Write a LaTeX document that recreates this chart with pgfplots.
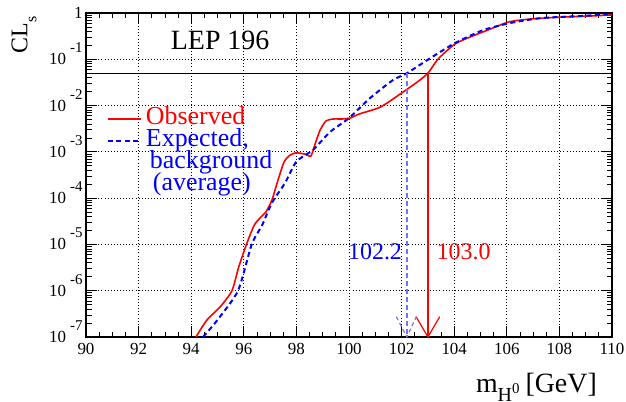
\documentclass[border=0pt]{standalone}
\usepackage{fontspec}
\setmainfont{Liberation Serif}
\usepackage{graphicx}
\usepackage{pgfplots}
\pgfplotsset{compat=1.18}
\newcommand{\ex}[1]{10\hspace{4bp}\smash{\raisebox{12bp}{\fontsize{15}{15}\selectfont #1}}}
\begin{document}
\begin{tikzpicture}
\begin{axis}[
  at={(0,0)}, anchor=south west,
  scale only axis, width=526bp, height=324bp,
  xmin=90, xmax=110, ymode=log, ymin=1e-7, ymax=1,
  xtick={90,92,...,110}, minor x tick num=3,
  ytick={1e-7,1e-6,1e-5,1e-4,1e-3,1e-2,1e-1,1},
  yticklabels={\ex{-7},\ex{-6},\ex{-5},\ex{-4},\ex{-3},\ex{-2},\ex{-1},1\hspace{13bp}},
  grid=major,
  major grid style={black, line width=0.9bp, dash pattern=on 0.9bp off 2.2bp},
  tick align=inside,
  major tick length=11bp, minor tick length=5.5bp,
  every tick/.style={black, line width=0.8bp},
  axis line style={black, line width=1.3bp},
  xticklabel style={font=\fontsize{17}{17}\selectfont, yshift=-3bp},
  yticklabel style={font=\fontsize{17}{17}\selectfont},
  /pgf/number format/assume math mode=true,
  xlabel={m\raisebox{-9bp}{\fontsize{20}{20}\selectfont H\raisebox{8bp}{\fontsize{15}{15}\selectfont 0}}\hspace{6bp}[GeV]},
  xlabel style={at={(axis description cs:0.9715,-0.11)}, anchor=north east, inner sep=0pt, font=\fontsize{28}{28}\selectfont},
  legend style={at={(axis description cs:0.0399,0.7068)}, anchor=north west, draw=none, fill=none,
    inner sep=0pt, outer sep=0pt, cells={anchor=west},
    nodes={inner sep=0pt, text height=17bp, text depth=5bp},
    font=\fontsize{26}{26}\selectfont, row sep=0pt,
    /tikz/every odd column/.append style={column sep=4bp}},
  legend image code/.code={\draw[#1] (0bp,0bp) -- (33bp,0bp);},
]
\addplot[red, line width=1.6bp, smooth, tension=0.4] coordinates {
(94.18,1e-7) (94.6,2.34e-7) (95.1,4.47e-7) (95.55,1e-6) (95.8,3.16e-6) (96.1,1e-5)
(96.4,2.63e-5) (96.7,4.17e-5) (96.84,5.01e-5) (97.07,9.12e-5) (97.3,2.45e-4)
(97.53,6.03e-4) (97.76,8.51e-4) (98.0,9.55e-4) (98.33,8.91e-4) (98.55,8.13e-4)
(98.7,1.41e-3) (98.9,2.95e-3) (99.13,4.68e-3) (99.4,5.13e-3) (99.73,5.13e-3)
(100.04,5.37e-3) (100.4,6.61e-3) (101.2,9.33e-3) (102.05,1.95e-2) (102.6,3.24e-2)
(103.0,5.0e-2) (103.27,8.32e-2) (103.46,0.112) (104.03,0.214) (104.6,0.302)
(105.36,0.447) (106.1,0.646) (106.9,0.741) (108.0,0.813) (109.2,0.861) (110,0.912)};
\addlegendentry[text=red]{Observed}
\addplot[blue, line width=2bp, dash pattern=on 5bp off 3.5bp, smooth, tension=0.4] coordinates {
(94.45,1e-7) (95.0,2.34e-7) (95.78,1e-6) (96.3,1e-5) (96.7,2.63e-5) (97.07,7.94e-5)
(97.57,2.14e-4) (98.0,6.17e-4) (98.63,1.10e-3) (99.28,2.69e-3) (100.0,5.37e-3)
(100.8,1.45e-2) (101.67,3.55e-2) (102.2,5.0e-2) (103.08,0.105) (104.03,0.224)
(105.1,0.427) (106.1,0.603) (107.3,0.776) (108.8,0.861) (110,0.955)};
\addlegendentry[text=blue]{Expected,}
\addlegendimage{empty legend}
\addlegendentry[text=blue]{\hspace{4bp}background}
\addlegendimage{empty legend}
\addlegendentry[text=blue]{\hspace{7bp}(average)}
\addplot[black, line width=1.2bp, forget plot] coordinates {(90,0.05) (110,0.05)};
\addplot[draw=red, line width=1.3bp, forget plot] coordinates {(103,0.05) (103,1e-7)};
\addplot[draw=red, line width=1.2bp, forget plot] coordinates {(102.55,2.75e-7) (103,1e-7) (103.45,2.75e-7)};
\addplot[draw=blue!55, line width=1.5bp, dash pattern=on 5bp off 3bp, forget plot] coordinates {(102.2,0.05) (102.2,1e-7)};
\addplot[draw=blue!55, line width=1.2bp, dash pattern=on 4bp off 3bp, forget plot] coordinates {(101.8,2.75e-7) (102.2,1e-7) (102.56,2.75e-7)};
\node[anchor=base, font=\fontsize{28}{28}\selectfont] at (axis cs:95.1,0.159) {LEP 196};
\node[anchor=base, text=blue, font=\fontsize{24}{24}\selectfont] at (axis cs:100.99,4.62e-6) {102.2};
\node[anchor=base, text=red, font=\fontsize{24}{24}\selectfont] at (axis cs:104.36,4.62e-6) {103.0};
\end{axis}
\node[anchor=center, inner sep=0pt, font=\fontsize{24}{24}\selectfont] at (-62bp,302bp) {\rotatebox{90}{CL\raisebox{-9bp}{\fontsize{16}{16}\selectfont s}}};
\pgfresetboundingbox
\path (-86bp,-65bp) rectangle (540bp,337bp);
\end{tikzpicture}
\end{document}
